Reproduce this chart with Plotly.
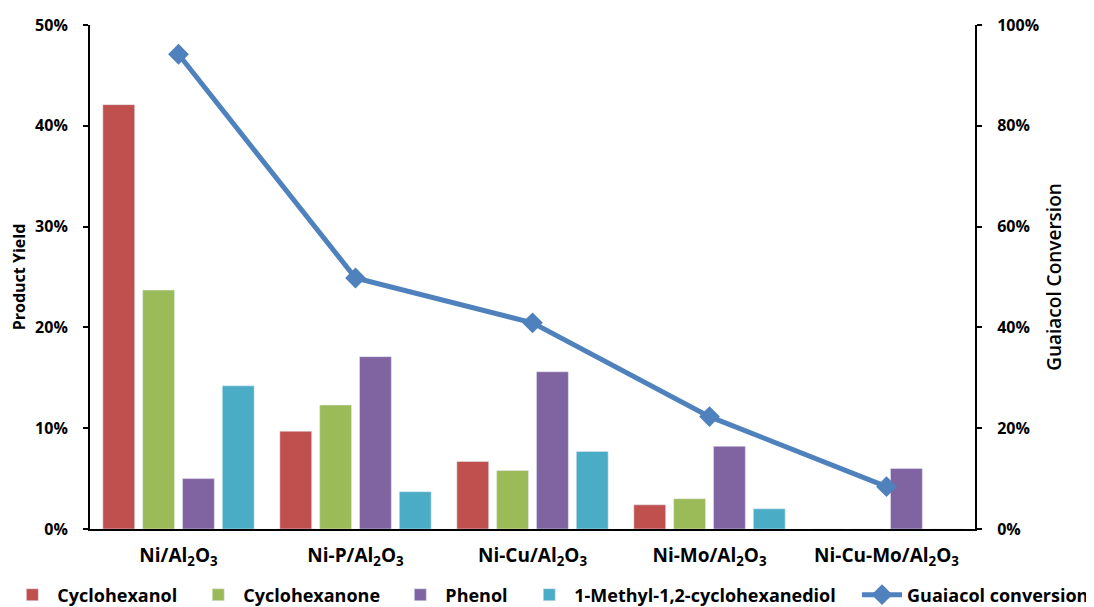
import plotly.graph_objects as go

catalysts = ["Ni/Al<sub>2</sub>O<sub>3</sub>", "Ni-P/Al<sub>2</sub>O<sub>3</sub>", "Ni-Cu/Al<sub>2</sub>O<sub>3</sub>",
             "Ni-Mo/Al<sub>2</sub>O<sub>3</sub>", "Ni-Cu-Mo/Al<sub>2</sub>O<sub>3</sub>"]
cyclohexanol = [0.421, 0.097, 0.067, 0.024, 0.0]
cyclohexanone = [0.237, 0.123, 0.058, 0.030, 0.0]
phenol = [0.050, 0.171, 0.156, 0.082, 0.060]
methyl_diol = [0.142, 0.037, 0.077, 0.020, 0.0]
guaiacol_conv = [0.942, 0.498, 0.409, 0.223, 0.084]

FONT = "Open Sans"
fig = go.Figure()
fig.add_bar(x=catalysts, y=cyclohexanol, name="Cyclohexanol", marker_color="#C0504D", legend="legend")
fig.add_bar(x=catalysts, y=cyclohexanone, name="Cyclohexanone", marker_color="#9BBB59", legend="legend2")
fig.add_bar(x=catalysts, y=phenol, name="Phenol", marker_color="#8064A2", legend="legend3")
fig.add_bar(x=catalysts, y=methyl_diol, name="1-Methyl-1,2-cyclohexanediol", marker_color="#4BACC6",
            legend="legend4")
fig.add_scatter(x=catalysts, y=guaiacol_conv, name="Guaiacol conversion", yaxis="y2",
                legend="legend5",
                mode="lines+markers", line=dict(color="#4F81BD", width=5),
                marker=dict(symbol="diamond", size=16, color="#4F81BD"))

# page body has an 8px margin: plot area spans x 90..975, y 25..529 in the window
legend_font = dict(size=18, weight="bold", family=FONT)


def leg(x, anchor="left"):
    return dict(orientation="h", x=x, xanchor=anchor, y=-0.131, yanchor="middle",
                font=legend_font, itemwidth=40, bgcolor="rgba(0,0,0,0)")


fig.update_layout(
    width=1086, height=599,
    showlegend=True,
    margin=dict(l=82, r=119, t=17, b=78, autoexpand=False),
    paper_bgcolor="white", plot_bgcolor="white",
    font=dict(family=FONT, size=16, color="black", weight="bold"),
    barmode="group", bargap=0.1, bargroupgap=0.2,
    xaxis=dict(showline=True, linecolor="black", linewidth=2, ticks="",
               ticklabelstandoff=8,
               tickfont=dict(size=19, family=FONT, weight="bold")),
    yaxis=dict(range=[0, 0.5], dtick=0.1, tickformat=".0%", showgrid=False,
               showline=True, linecolor="black", linewidth=2, ticks="outside",
               ticklen=5, tickwidth=2, tickcolor="black", zeroline=False,
               ticklabelstandoff=12,
               title=dict(text="Product Yield", font=dict(size=16, weight="bold"), standoff=10),
               tickfont=dict(size=16)),
    yaxis2=dict(range=[0, 1.0], dtick=0.2, tickformat=".0%", overlaying="y", side="right",
                showgrid=False, showline=True, linecolor="black", linewidth=2,
                ticks="outside", ticklen=5, tickwidth=2, tickcolor="black", zeroline=False,
                ticklabelstandoff=12,
                title=dict(text="Guaiacol Conversion", font=dict(size=19, weight=600), standoff=10),
                tickfont=dict(size=16)),
    legend=leg(-0.0934),
    legend2=leg(0.1167),
    legend3=leg(0.345),
    legend4=leg(0.4907),
    legend5=leg(1.1345, "right"),
)

fig.write_html("out.html")
